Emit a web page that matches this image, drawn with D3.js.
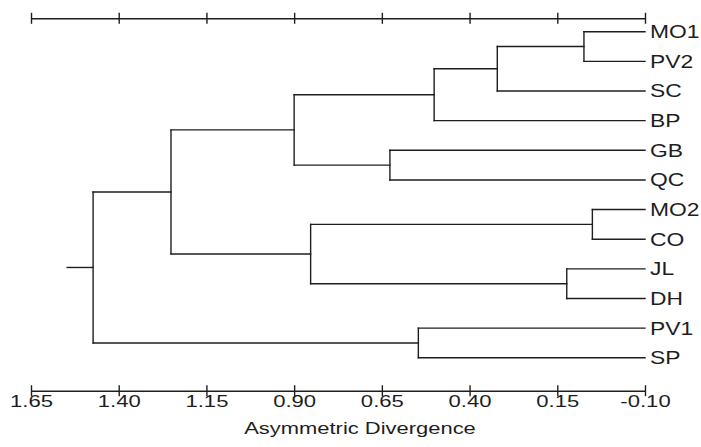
<!DOCTYPE html>
<html>
<head>
<meta charset="utf-8">
<script src="https://cdn.jsdelivr.net/npm/d3@7"></script>
<style>
  body { margin: 0; background: #fff; }
  svg { display: block; font-family: "Liberation Sans", Arial, sans-serif; }
</style>
</head>
<body>
<div id="chart"></div>
<script>
// leaf order, top to bottom
const leaves = ["MO1", "PV2", "SC", "BP", "GB", "QC", "MO2", "CO", "JL", "DH", "PV1", "SP"]

// merges: [left, right, height]; new cluster gets name n1, n2 ...
const merges = [
  ["MO1", "PV2", 0.074],
  ["n1", "SC", 0.321],
  ["n2", "BP", 0.501],
  ["GB", "QC", 0.627],
  ["n3", "n4", 0.900],
  ["MO2", "CO", 0.050],
  ["JL", "DH", 0.123],
  ["n6", "n7", 0.853],
  ["n5", "n8", 1.251],
  ["PV1", "SP", 0.546],
  ["n9", "n10", 1.473]
]

const tickValues = [1.65, 1.40, 1.15, 0.90, 0.65, 0.40, 0.15, -0.10]
const leafEnd = -0.10
const rootStub = 1.547
const axisTitle = "Asymmetric Divergence"

const width = 701, height = 447
const ink = "#1e1e1e"

const x = d3.scaleLinear().domain([1.65, -0.10]).range([31, 645])
const yLeaf = d3.scalePoint().domain(leaves).range([31.7, 357.8])

// build nested tree from merge list
const byName = {}
leaves.forEach(name => { byName[name] = { name: name, h: leafEnd } })
merges.forEach((m, i) => {
  byName["n" + (i + 1)] = { name: "n" + (i + 1), h: m[2], children: [byName[m[0]], byName[m[1]]] }
})
const root = d3.hierarchy(byName["n" + merges.length])

root.eachAfter(d => {
  d.py = d.children ? d3.mean(d.children, c => c.py) : yLeaf(d.data.name)
})

const svg = d3.select("#chart")
  .append("svg")
  .attr("width", width)
  .attr("height", height)

const g = svg.append("g")
  .attr("fill", "none")
  .attr("stroke", ink)
  .attr("stroke-width", 1.4)
  .attr("stroke-linecap", "square")

// horizontal branches
g.selectAll("line.branch")
  .data(root.descendants().filter(d => d.parent))
  .enter()
  .append("line")
    .classed("branch", true)
    .attr("x1", d => x(d.parent.data.h))
    .attr("x2", d => x(d.data.h))
    .attr("y1", d => d.py)
    .attr("y2", d => d.py)

// vertical joins
g.selectAll("line.join")
  .data(root.descendants().filter(d => d.children))
  .enter()
  .append("line")
    .classed("join", true)
    .attr("x1", d => x(d.data.h))
    .attr("x2", d => x(d.data.h))
    .attr("y1", d => d3.min(d.children, c => c.py))
    .attr("y2", d => d3.max(d.children, c => c.py))

// root stub
g.append("line")
  .attr("x1", x(rootStub))
  .attr("x2", x(root.data.h))
  .attr("y1", root.py)
  .attr("y2", root.py)

// leaf labels (source image is stretched horizontally)
svg.selectAll("text.leaf")
  .data(root.leaves())
  .enter()
  .append("text")
    .classed("leaf", true)
    .attr("transform", d => `translate(${x(leafEnd) + 5}, ${d.py + 6.5}) scale(1.27, 1)`)
    .attr("font-size", 18)
    .attr("fill", ink)
    .text(d => d.data.name)

// axes with ticks crossing the line
const drawAxis = (yPos, withLabels) => {
  const axis = d3.axisBottom(x)
    .tickValues(tickValues)
    .tickSize(0)
    .tickFormat(withLabels ? (d => d.toFixed(2)) : "")
  const ag = svg.append("g")
    .attr("transform", `translate(0, ${yPos})`)
    .call(axis)
  ag.select(".domain").attr("stroke", ink).attr("stroke-width", 1.4)
  ag.selectAll(".tick line")
    .attr("y1", -5.5)
    .attr("y2", 5.5)
    .attr("stroke", ink)
    .attr("stroke-width", 1.4)
  ag.selectAll(".tick text")
    .attr("y", 0)
    .attr("dy", 0)
    .attr("transform", "translate(0, 16.2) scale(1.3, 1)")
    .attr("font-size", 17)
    .attr("font-family", "Liberation Sans, Arial, sans-serif")
    .attr("fill", ink)
  return ag
}

drawAxis(18.3, false)
drawAxis(390.7, true)

svg.append("text")
  .attr("transform", "translate(360, 434) scale(1.33, 1)")
  .attr("text-anchor", "middle")
  .attr("font-size", 16.5)
  .attr("fill", ink)
  .text(axisTitle)
</script>
</body>
</html>
